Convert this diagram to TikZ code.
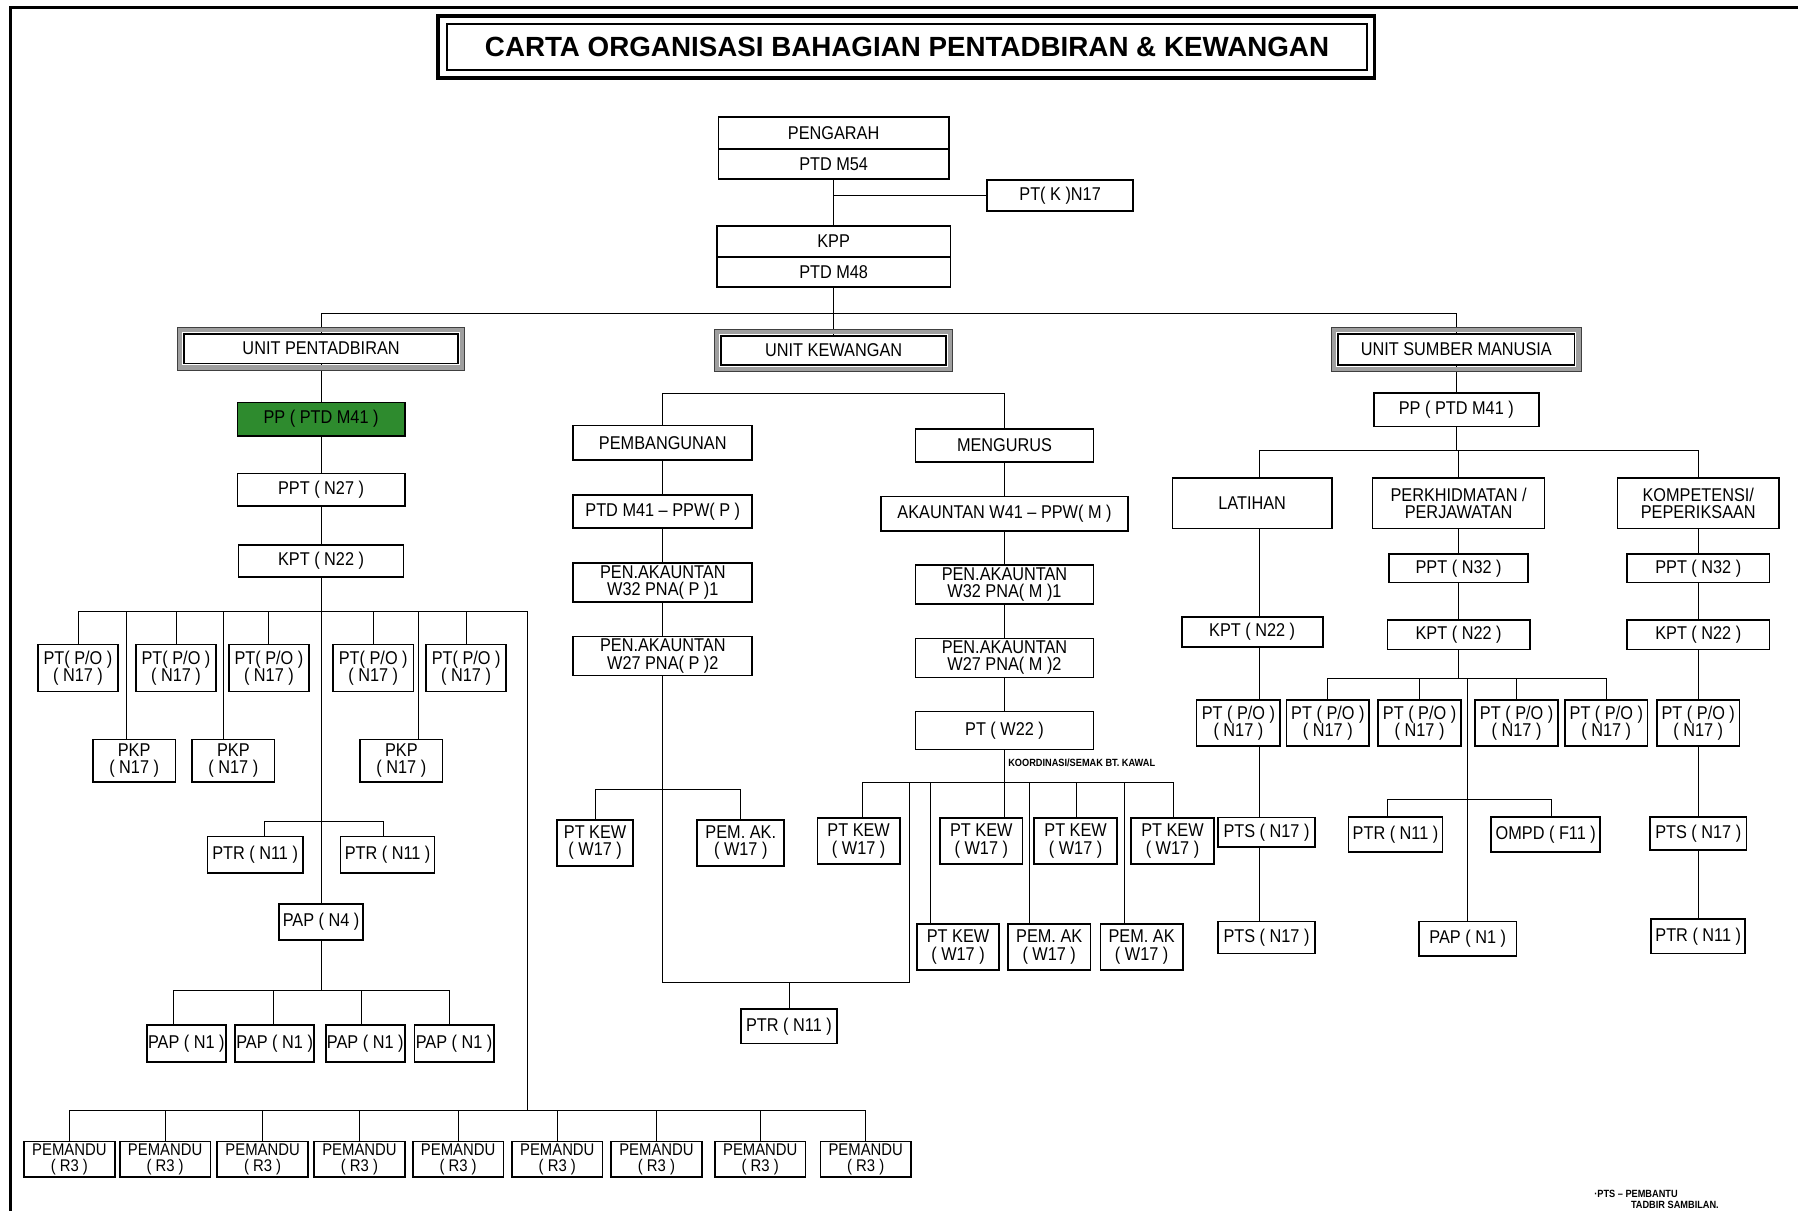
\documentclass[tikz,border=0pt]{standalone}
\usepackage{fontspec}
\setmainfont{Liberation Sans}
\newfontfamily\boxfont{Liberation Sans}[FakeStretch=0.88, Ligatures=TeX]
\usetikzlibrary{positioning, calc, backgrounds}

\definecolor{ppgreen}{RGB}{46,139,46}
\newcommand{\pxu}{0.57pt}

\tikzset{
  box/.style={draw, line width=0.85pt, fill=white, inner sep=0pt, align=center,
    font=\boxfont\fontsize{9.2}{8.6}\selectfont},
  sz/.style 2 args={minimum width=#1*\pxu, minimum height=#2*\pxu},
  small/.style={font=\boxfont\fontsize{8.4}{8}\selectfont},
  link/.style={line width=0.8pt},
  ring/.style={draw=gray!75, line width=2.3pt},
  ringedge/.style={draw=black!75, line width=0.5pt},
  tinytext/.style={anchor=west, inner sep=0pt, font=\boxfont\bfseries\fontsize{5.2}{5.6}\selectfont},
}

\begin{document}
\begin{tikzpicture}[x=0.57pt, y=-0.57pt]
    \useasboundingbox (0,0) rectangle (1568,1056);

    % page frame (top and left only)
    \draw[line width=1.4pt] (1568,6.5) -- (9.5,6.5) -- (9.5,1056);

    % Title
    \node[box, sz={802}{40}, line width=1.1pt, font=\bfseries\fontsize{13.8}{14}\selectfont] (title) at (791,41)
        {CARTA ORGANISASI BAHAGIAN PENTADBIRAN \& KEWANGAN};
    \draw[line width=1.6pt] ([shift={(-7,-6)}]title.north west) rectangle ([shift={(6,6)}]title.south east);

    % Pengarah and KPP
    \node[box, sz={201}{28}] (peng) at (727,116) {PENGARAH};
    \node[box, sz={201}{26}] (pengm) at (727,143) {PTD M54};
    \node[box, sz={127}{27}] (ptk) at (924.5,170.5) {PT( K )N17};
    \node[box, sz={204}{27}] (kpp) at (727,210.5) {KPP};
    \node[box, sz={204}{26}] (kppm) at (727,237) {PTD M48};

    % Units
    \node[box, sz={239}{26}] (unitp) at (280,304) {UNIT PENTADBIRAN};
    \node[box, sz={196}{25}] (unitk) at (727,305.5) {UNIT KEWANGAN};
    \node[box, sz={206}{27}] (unitsm) at (1270,304.5) {UNIT SUMBER MANUSIA};
    \foreach \un in {unitp, unitk, unitsm} {
        \draw[ring] ([shift={(-3,-3)}]\un.north west) rectangle ([shift={(3,3)}]\un.south east);
        \draw[ringedge] ([shift={(-5,-5)}]\un.north west) rectangle ([shift={(5,5)}]\un.south east);
    }

    % Unit Pentadbiran
    \node[box, sz={146}{29}, fill=ppgreen] (ppg) at (280,365.5) {PP ( PTD M41 )};
    \node[box, sz={146}{28}] (ppt27) at (280,427) {PPT ( N27 )};
    \node[box, sz={144}{28}] (kpt22) at (280,489) {KPT ( N22 )};
    \foreach \i/\x in {1/68, 2/153.5, 3/234.5, 4/325.5, 5/406.5}
        \node[box, sz={70}{41}] (po\i) at (\x,582.5) {PT( P/O )\\( N17 )};
    \foreach \i/\x in {1/117, 2/203.5, 3/350}
        \node[box, sz={72}{37}] (pkp\i) at (\x,663.5) {PKP\\( N17 )};
    \node[box, sz={83}{32}] (ptrp1) at (222.5,745.6) {PTR ( N11 )};
    \node[box, sz={82}{32}] (ptrp2) at (338,745.6) {PTR ( N11 )};
    \node[box, sz={73}{31}] (papn4) at (280,804) {PAP ( N4 )};
    \foreach \i/\x in {1/162.5, 2/239.5, 3/318.5, 4/396}
        \node[box, sz={69}{32}] (pap\i) at (\x,910) {PAP ( N1 )};
    \foreach \i/\x in {1/60.5, 2/144, 3/229, 4/313.5, 5/399.5, 6/486, 7/572.5, 8/663, 9/755}
        \node[box, small, sz={79}{31}] (pmd\i) at (\x,1011) {PEMANDU\\( R3 )};

    % Unit Kewangan
    \node[box, sz={156}{30}] (pemb) at (578,386) {PEMBANGUNAN};
    \node[box, sz={156}{29}] (ppwp) at (578,446) {PTD M41 – PPW( P )};
    \node[box, sz={156}{34}] (penp1) at (578,508) {PEN.AKAUNTAN\\W32 PNA( P )1};
    \node[box, sz={156}{34}] (penp2) at (578,572) {PEN.AKAUNTAN\\W27 PNA( P )2};
    \node[box, sz={66}{40}] (kewp) at (519,735) {PT KEW\\( W17 )};
    \node[box, sz={76}{40}] (pemakp) at (646,735) {PEM. AK.\\( W17 )};
    \node[box, sz={84}{30}] (ptrk) at (688,895) {PTR ( N11 )};
    \node[box, sz={155}{29}] (meng) at (876,388.5) {MENGURUS};
    \node[box, sz={216}{30}] (ppwm) at (876,448) {AKAUNTAN W41 – PPW( M )};
    \node[box, sz={155}{34}] (penm1) at (876,509.7) {PEN.AKAUNTAN\\W32 PNA( M )1};
    \node[box, sz={155}{34}] (penm2) at (876,573.7) {PEN.AKAUNTAN\\W27 PNA( M )2};
    \node[box, sz={155}{33}] (ptw22) at (876,637) {PT ( W22 )};
    \node[tinytext] (koord) at (879,665.5) {KOORDINASI/SEMAK BT. KAWAL};
    \foreach \i/\x in {1/748.8, 2/855.8, 3/938, 4/1022.5}
        \node[box, sz={72}{40}] (kewu\i) at (\x,733.5) {PT KEW\\( W17 )};
    \node[box, sz={72}{40}] (kewl) at (835.5,826) {PT KEW\\( W17 )};
    \node[box, sz={72}{40}] (pemak1) at (915,826) {PEM. AK\\( W17 )};
    \node[box, sz={72}{40}] (pemak2) at (995.6,826) {PEM. AK\\( W17 )};

    % Unit Sumber Manusia
    \node[box, sz={144}{29}] (ppsm) at (1270,357.5) {PP ( PTD M41 )};
    \node[box, sz={139}{44}] (lat) at (1092,439) {LATIHAN};
    \node[box, sz={150}{44}] (perk) at (1272,439) {PERKHIDMATAN /\\PERJAWATAN};
    \node[box, sz={141}{44}] (komp) at (1481,439) {KOMPETENSI/\\PEPERIKSAAN};
    \node[box, sz={123}{26}] (kptl) at (1092,551) {KPT ( N22 )};
    \node[box, sz={73}{40}] (pol) at (1080,630.4) {PT ( P/O )\\( N17 )};
    \node[box, sz={85}{26}] (ptsl1) at (1104.5,725.8) {PTS ( N17 )};
    \node[box, sz={85}{28}] (ptsl2) at (1104.5,817.6) {PTS ( N17 )};
    \node[box, sz={121}{25}] (ppt32m) at (1272,495.6) {PPT ( N32 )};
    \node[box, sz={124}{26}] (kpt22m) at (1272,553.5) {KPT ( N22 )};
    \foreach \i/\x in {1/1158, 2/1238, 3/1322.6, 4/1400.8}
        \node[box, sz={72}{40}] (pom\i) at (\x,630.4) {PT ( P/O )\\( N17 )};
    \node[box, sz={82}{30}] (ptrm) at (1217,727.7) {PTR ( N11 )};
    \node[box, sz={95}{30}] (ompd) at (1348,727.7) {OMPD ( F11 )};
    \node[box, sz={85}{30}] (papm) at (1280,818.7) {PAP ( N1 )};
    \node[box, sz={124}{25}] (ppt32k) at (1481,495.6) {PPT ( N32 )};
    \node[box, sz={124}{26}] (kpt22k) at (1481,553.5) {KPT ( N22 )};
    \node[box, sz={72}{40}] (pok) at (1481,630.4) {PT ( P/O )\\( N17 )};
    \node[box, sz={84}{29}] (ptsk) at (1481,727) {PTS ( N17 )};
    \node[box, sz={82}{30}] (ptrk2) at (1481,816.5) {PTR ( N11 )};

    % footnote
    \node[tinytext] (fn1) at (1390,1041) {·PTS – PEMBANTU};
    \node[tinytext] (fn2) at (1422,1050.5) {TADBIR SAMBILAN.};

    % Connectors, behind the boxes
    \begin{scope}[on background layer, link]
        \draw (pengm.south) -- (kpp.north);
        \draw (pengm.south |- ptk.west) -- (ptk.west);
        \coordinate (topbus) at (727,273);
        \draw (kppm.south) -- (unitk.north);
        \draw (topbus) -| (unitp.north);
        \draw (topbus) -| (unitsm.north);

        % pentadbiran
        \coordinate (busp) at (280,533);
        \coordinate (busptr) at (280,716);
        \coordinate (buspap) at (280,864);
        \coordinate (pmdbus) at (460,968);
        \draw (unitp.south) -- (papn4.north);
        \draw (papn4.south) -- (buspap);
        \foreach \n in {po1, po2, po3, po4, po5}
            \draw (busp) -| (\n.north);
        \foreach \n/\dx in {pkp1/-7, pkp2/-8.5, pkp3/15}
            \draw (busp) -| ([xshift=\dx*\pxu]\n.north);
        \draw (busptr) -| ([xshift=8.5*\pxu]ptrp1.north);
        \draw (busptr) -| ([xshift=-4*\pxu]ptrp2.north);
        \foreach \n/\dx in {pap1/-11.5, pap2/-1.5, pap3/-3.5, pap4/-4}
            \draw (buspap) -| ([xshift=\dx*\pxu]\n.north);
        \draw (busp) -| (pmdbus);
        \foreach \i in {1,...,9}
            \draw (pmdbus) -| (pmd\i.north);

        % kewangan
        \coordinate (busk) at (727,343);
        \coordinate (buskp) at (578,688);
        \coordinate (buskb) at (578,857);
        \coordinate (busm) at (876,682.5);
        \coordinate (kl) at (793,682.5);
        \draw (busk) -| (pemb.north);
        \draw (busk) -| (meng.north);
        \draw (pemb.south) -- (buskb);
        \draw (buskp) -| (kewp.north);
        \draw (buskp) -| (pemakp.north);
        \draw (buskb) -| (ptrk.north);
        \draw (kl) |- (buskb);
        \draw (meng.south) -- (busm);
        \foreach \n/\dx in {kewu1/3, kewu2/20.2, kewu3/1, kewu4/1, kewl/-24, pemak1/-17.4, pemak2/-15.4}
            \draw (busm) -| ([xshift=\dx*\pxu]\n.north);

        % sumber manusia
        \coordinate (bussm) at (1272,392.4);
        \coordinate (latx) at (1098,392.4);
        \coordinate (busmm) at (1272,591.6);
        \coordinate (busom) at (1280,697);
        \draw (unitsm.south) -- (ppsm.north);
        \draw (ppsm.south) |- (bussm);
        \draw (bussm) -| (latx);
        \draw (bussm) -| (komp.north);
        \draw (bussm) -- (perk.north);
        \draw (latx) -- (latx |- ptsl2.north);
        \draw (perk.south) -- (busmm);
        \foreach \i in {1,...,4}
            \draw (busmm) -| (pom\i.north);
        \draw (busom |- busmm) -- (papm.north);
        \draw (busom) -| ([xshift=-7*\pxu]ptrm.north);
        \draw (busom) -| ([xshift=4.7*\pxu]ompd.north);
        \draw (komp.south) -- (ptrk2.north);
    \end{scope}
\end{tikzpicture}
\end{document}
